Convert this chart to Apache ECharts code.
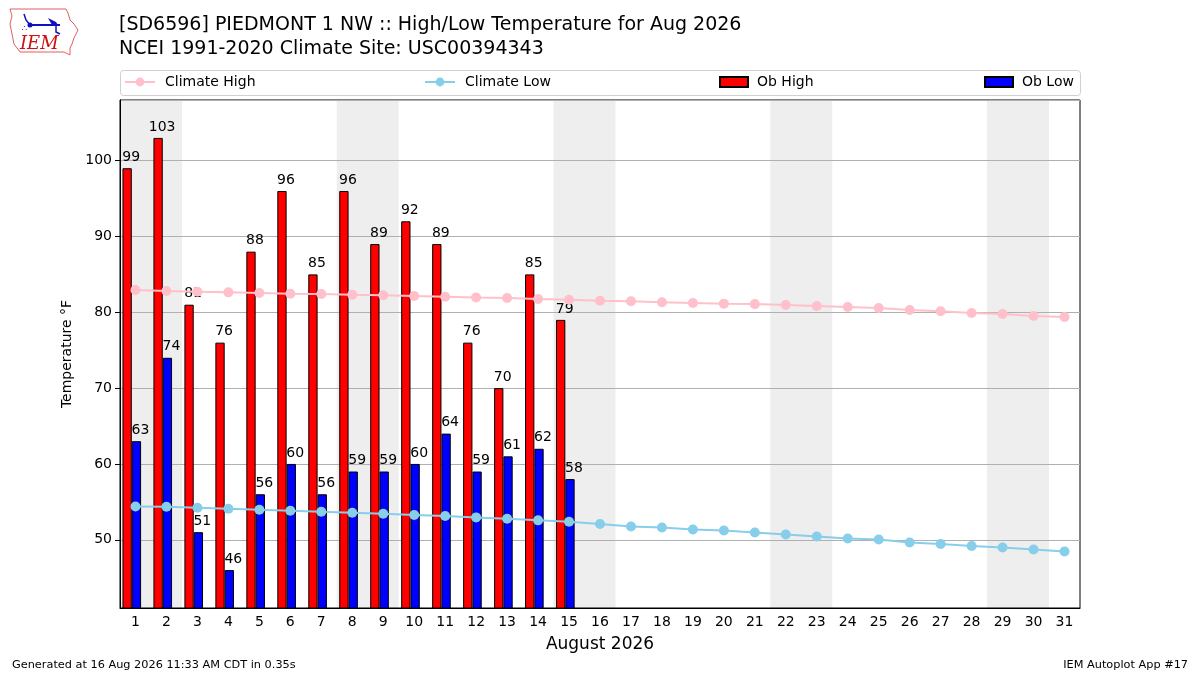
<!DOCTYPE html>
<html>
<head>
<meta charset="utf-8">
<script src="https://cdn.jsdelivr.net/npm/echarts@6/dist/echarts.min.js"></script>
<style>
html,body{margin:0;padding:0;background:#fff;}
#c{width:1200px;height:675px;}
</style>
</head>
<body>
<div id="c"></div>
<script>
const days = ['1','2','3','4','5','6','7','8','9','10','11','12','13','14','15','16','17','18','19','20','21','22','23','24','25','26','27','28','29','30','31'];
const obHigh = [99,103,81,76,88,96,85,96,89,92,89,76,70,85,79];
const obLow = [63,74,51,46,56,60,56,59,59,60,64,59,61,62,58];
const climHigh = [82.94,82.81,82.72,82.63,82.55,82.45,82.41,82.30,82.24,82.15,82.06,81.95,81.88,81.76,81.66,81.52,81.45,81.32,81.23,81.14,81.08,80.96,80.83,80.70,80.57,80.31,80.13,79.91,79.78,79.52,79.38];
const climLow = [54.39,54.35,54.22,54.09,53.96,53.83,53.69,53.56,53.43,53.27,53.13,52.95,52.77,52.56,52.37,52.08,51.74,51.61,51.35,51.21,50.95,50.69,50.42,50.16,50.03,49.63,49.45,49.18,48.97,48.71,48.44];
const weekendStarts = [1,8,15,22,29];

const FONT = 'DejaVu Sans';
const chart = echarts.init(document.getElementById('c'), null, {renderer:'canvas'});

const bands = weekendStarts.map(d => [{xAxis: d - 0.5}, {xAxis: d + 1.5}]);
const legendText = pad => ({fontFamily:FONT, fontSize:14, color:'#000', padding:[0,0,0,pad]});

const option = {
  backgroundColor: '#fff',
  animation: false,
  textStyle: {fontFamily: FONT, color: '#000'},
  title: {
    text: '[SD6596] PIEDMONT 1 NW :: High/Low Temperature for Aug 2026\nNCEI 1991-2020 Climate Site: USC00394343',
    left: 119, top: 13, padding: 0,
    textStyle: {fontFamily: FONT, fontSize: 19, fontWeight: 'normal', color: '#000', lineHeight: 24}
  },
  legend: [
    {data:['Climate High'], left:124, top:75, padding:0, itemWidth:30, itemHeight:11, textStyle:legendText(5)},
    {data:['Climate Low'], left:424, top:75, padding:0, itemWidth:30, itemHeight:11, textStyle:legendText(5)},
    {data:[{name:'Ob High', icon:'rect'}], left:719, top:75, padding:0, itemWidth:28, itemHeight:10, textStyle:legendText(4)},
    {data:[{name:'Ob Low', icon:'rect'}], left:984, top:75, padding:0, itemWidth:28, itemHeight:10, textStyle:legendText(4)}
  ],
  grid: {left:120, right:120, top:100, bottom:67, show:true, borderColor:'#000', borderWidth:1, backgroundColor:'transparent', containLabel:false},
  xAxis: [
    {
      type:'category', data: days, boundaryGap:true,
      name:'August 2026', nameLocation:'middle', nameGap:28,
      nameTextStyle:{fontFamily:FONT, fontSize:17, color:'#000'},
      axisLine:{lineStyle:{color:'#000', width:1}},
      axisTick:{alignWithLabel:true, length:5, lineStyle:{color:'#000'}},
      axisLabel:{interval:0, fontFamily:FONT, fontSize:14, color:'#000', margin:7},
      splitLine:{show:false}
    },
    {type:'value', min:0.5, max:31.5, show:false}
  ],
  yAxis: {
    type:'value', min:41, max:108,
    name:'Temperature °F', nameLocation:'middle', nameGap:40, nameRotate:90,
    nameTextStyle:{fontFamily:FONT, fontSize:14, color:'#000'},
    axisLine:{show:true, lineStyle:{color:'#000'}},
    axisTick:{show:true, length:5, lineStyle:{color:'#000'}},
    axisLabel:{fontFamily:FONT, fontSize:14, color:'#000', margin:8, showMinLabel:false, showMaxLabel:false},
    splitLine:{show:true, lineStyle:{color:'#b0b0b0', width:1}}
  },
  series: [
    {
      name:'bands', type:'line', xAxisIndex:1, data:[], z:-5,
      markArea:{silent:true, z:-5, itemStyle:{color:'#eeeeee'}, data: bands}
    },
    {
      name:'Ob High', type:'bar', data: obHigh, barWidth:9.3, barGap:'0%', z:3,
      itemStyle:{color:'#ff0000', borderColor:'#000', borderWidth:1},
      label:{show:true, position:'top', offset:[4,0], distance:4, fontFamily:FONT, fontSize:14, color:'#000'}
    },
    {
      name:'Ob Low', type:'bar', data: obLow, barWidth:9.3, barGap:'0%', z:3,
      itemStyle:{color:'#0000ff', borderColor:'#000', borderWidth:1},
      label:{show:true, position:'top', offset:[4,0], distance:4, fontFamily:FONT, fontSize:14, color:'#000'}
    },
    {
      name:'spacer', type:'bar', data: [], barWidth:7.4, barGap:'0%'
    },
    {
      name:'Climate High', type:'line', data: climHigh, z:5,
      symbol:'circle', symbolSize:10,
      lineStyle:{color:'#ffc0cb', width:2}, itemStyle:{color:'#ffc0cb'}
    },
    {
      name:'Climate Low', type:'line', data: climLow, z:5,
      symbol:'circle', symbolSize:10,
      lineStyle:{color:'#87ceeb', width:2}, itemStyle:{color:'#87ceeb'}
    }
  ],
  graphic: [
    {type:'rect', left:120, top:70, shape:{width:960, height:25, r:3}, style:{fill:'rgba(255,255,255,0.8)', stroke:'#d0d0d0', lineWidth:1}, z:-1},
    {type:'text', left:12, top:660, style:{text:'Generated at 16 Aug 2026 11:33 AM CDT in 0.35s', font:'11.3px "DejaVu Sans"', fill:'#000'}},
    {type:'text', right:12, top:660, style:{text:'IEM Autoplot App #17', font:'11.3px "DejaVu Sans"', fill:'#000'}},
    {type:'polyline', shape:{points:[[10,9],[66,9],[68,13],[70,20],[74,24],[78,30],[74,38],[72,44],[70,48],[70,55],[64,52],[20,52],[14,44],[12,34],[10,24],[12,16],[10,9]]}, style:{stroke:'#e06060', fill:'none', lineWidth:1}},
    {type:'text', left:20, top:35, style:{text:'IEM', font:'italic 18px "DejaVu Serif"', fill:'#d01010'}},
    {type:'line', shape:{x1:30,y1:25,x2:60,y2:25}, style:{stroke:'#1010c0', lineWidth:2}},
    {type:'circle', shape:{cx:30,cy:25,r:2.5}, style:{fill:'#1010c0'}},
    {type:'polyline', shape:{points:[[24,14],[26,20],[30,25]]}, style:{stroke:'#1010c0', lineWidth:1.5, fill:'none'}},
    {type:'polygon', shape:{points:[[48,18],[56,22],[58,25],[52,25]]}, style:{fill:'#1010c0'}},
    {type:'polyline', shape:{points:[[56,25],[56,32],[60,34]]}, style:{stroke:'#1010c0', lineWidth:1.5, fill:'none'}},
    {type:'text', left:22, top:25, style:{text:'∴', font:'8px "DejaVu Sans"', fill:'#1010c0'}}
  ]
};
chart.setOption(option);
</script>
</body>
</html>
